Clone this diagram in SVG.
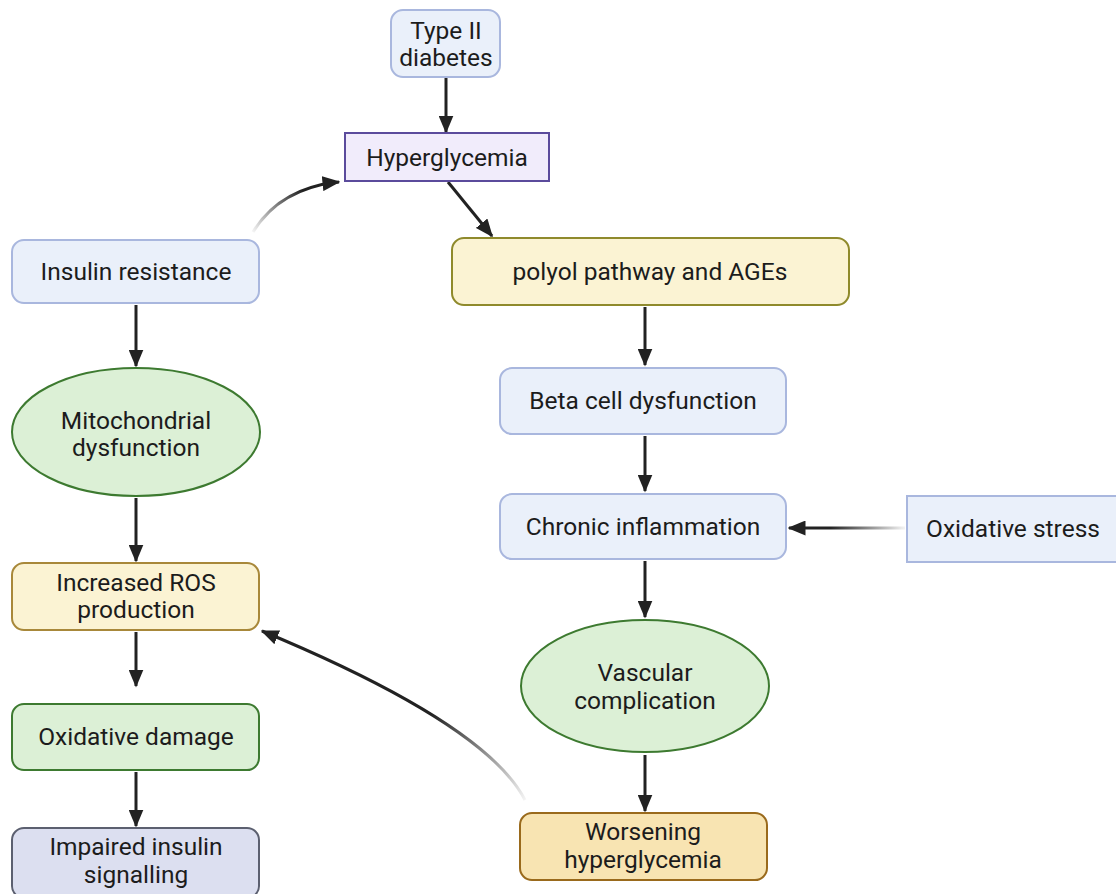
<svg xmlns="http://www.w3.org/2000/svg" width="1116" height="894" viewBox="0 0 1116 894">
<defs>
<style>
text{font-family:Roboto,"Liberation Sans",sans-serif;font-size:24.5px;fill:#1c1c1c;text-anchor:middle}
.blue{fill:#eaf0fa;stroke:#a9b7de;stroke-width:2}
.lav{fill:#f1ecfb;stroke:#5b4b9c;stroke-width:2}
.yel{fill:#fbf3d3;stroke:#8f8a2c;stroke-width:2}
.gold{fill:#fbf3d3;stroke:#a8883a;stroke-width:2}
.grn{fill:#dcf0d6;stroke:#3d7a30;stroke-width:2}
.gray{fill:#dcdff0;stroke:#5c6070;stroke-width:2}
.orng{fill:#f8e4b2;stroke:#9a6a1c;stroke-width:2}
.c{fill:none;stroke:#222;stroke-width:3}
.f{fill:none;stroke-width:3}
</style>
<marker id="ah" viewBox="0 0 12 10" refX="11" refY="5" markerWidth="6" markerHeight="5" markerUnits="strokeWidth" orient="auto">
<path d="M0,0 L12,5 L0,10 z" fill="#222"/>
</marker>
<linearGradient id="g1" gradientUnits="userSpaceOnUse" x1="253" y1="232" x2="300" y2="188">
<stop offset="0" stop-color="#222" stop-opacity="0.05"/><stop offset="1" stop-color="#222"/>
</linearGradient>
<linearGradient id="g2" gradientUnits="userSpaceOnUse" x1="905" y1="528" x2="830" y2="528">
<stop offset="0" stop-color="#222" stop-opacity="0.05"/><stop offset="1" stop-color="#222"/>
</linearGradient>
<linearGradient id="g3" gradientUnits="userSpaceOnUse" x1="525" y1="800" x2="430" y2="715">
<stop offset="0" stop-color="#222" stop-opacity="0.05"/><stop offset="1" stop-color="#222"/>
</linearGradient>
</defs>
<rect width="1116" height="894" fill="#ffffff"/>
<g id="connectors">
<line class="c" x1="446" y1="77" x2="446" y2="132" marker-end="url(#ah)"/>
<line class="c" x1="448" y1="182" x2="492" y2="236" marker-end="url(#ah)"/>
<path class="f" d="M253,232 Q280,188 339,182" stroke="url(#g1)" marker-end="url(#ah)"/>
<line class="c" x1="136" y1="305" x2="136" y2="366" marker-end="url(#ah)"/>
<line class="c" x1="136" y1="498" x2="136" y2="561" marker-end="url(#ah)"/>
<line class="c" x1="136" y1="632" x2="136" y2="686" marker-end="url(#ah)"/>
<line class="c" x1="136" y1="772" x2="136" y2="826" marker-end="url(#ah)"/>
<line class="c" x1="645" y1="307" x2="645" y2="365" marker-end="url(#ah)"/>
<line class="c" x1="645" y1="436" x2="645" y2="491" marker-end="url(#ah)"/>
<line class="f" x1="905" y1="528" x2="789" y2="528" stroke="url(#g2)" marker-end="url(#ah)"/>
<line class="c" x1="645" y1="561" x2="645" y2="617" marker-end="url(#ah)"/>
<line class="c" x1="645" y1="755" x2="645" y2="811" marker-end="url(#ah)"/>
<path class="f" d="M525,800 Q486,724 262,631" stroke="url(#g3)" marker-end="url(#ah)"/>
</g>
<g id="type2"><rect class="blue" x="391" y="10" width="109" height="67" rx="12"/><text x="446" y="39">Type II</text><text x="446" y="66">diabetes</text></g>
<g id="hyperglycemia"><rect class="lav" x="345" y="133" width="204" height="48"/><text x="447" y="166">Hyperglycemia</text></g>
<g id="insulin-resistance"><rect class="blue" x="12" y="240" width="247" height="63" rx="12"/><text x="136" y="280">Insulin resistance</text></g>
<g id="mito"><ellipse class="grn" cx="136" cy="432" rx="124" ry="64"/><text x="136" y="429">Mitochondrial</text><text x="136" y="456">dysfunction</text></g>
<g id="ros"><rect class="gold" x="12" y="563" width="247" height="67" rx="12"/><text x="136" y="591">Increased ROS</text><text x="136" y="618">production</text></g>
<g id="oxdamage"><rect class="grn" x="12" y="704" width="247" height="66" rx="12"/><text x="136" y="745">Oxidative damage</text></g>
<g id="impaired"><rect class="gray" x="12" y="828" width="247" height="70" rx="12"/><text x="136" y="855">Impaired insulin</text><text x="136" y="883">signalling</text></g>
<g id="polyol"><rect class="yel" x="452" y="238" width="397" height="67" rx="12"/><text x="650" y="280">polyol pathway and AGEs</text></g>
<g id="beta"><rect class="blue" x="500" y="368" width="286" height="66" rx="12"/><text x="643" y="409">Beta cell dysfunction</text></g>
<g id="chronic"><rect class="blue" x="500" y="494" width="286" height="65" rx="12"/><text x="643" y="535">Chronic inflammation</text></g>
<g id="oxstress"><rect class="blue" x="907" y="496" width="215" height="66"/><text x="1013" y="537">Oxidative stress</text></g>
<g id="vascular"><ellipse class="grn" cx="645" cy="686" rx="124" ry="66"/><text x="645" y="681">Vascular</text><text x="645" y="709">complication</text></g>
<g id="worsening"><rect class="orng" x="520" y="813" width="247" height="67" rx="12"/><text x="643" y="840">Worsening</text><text x="643" y="868">hyperglycemia</text></g>
</svg>
